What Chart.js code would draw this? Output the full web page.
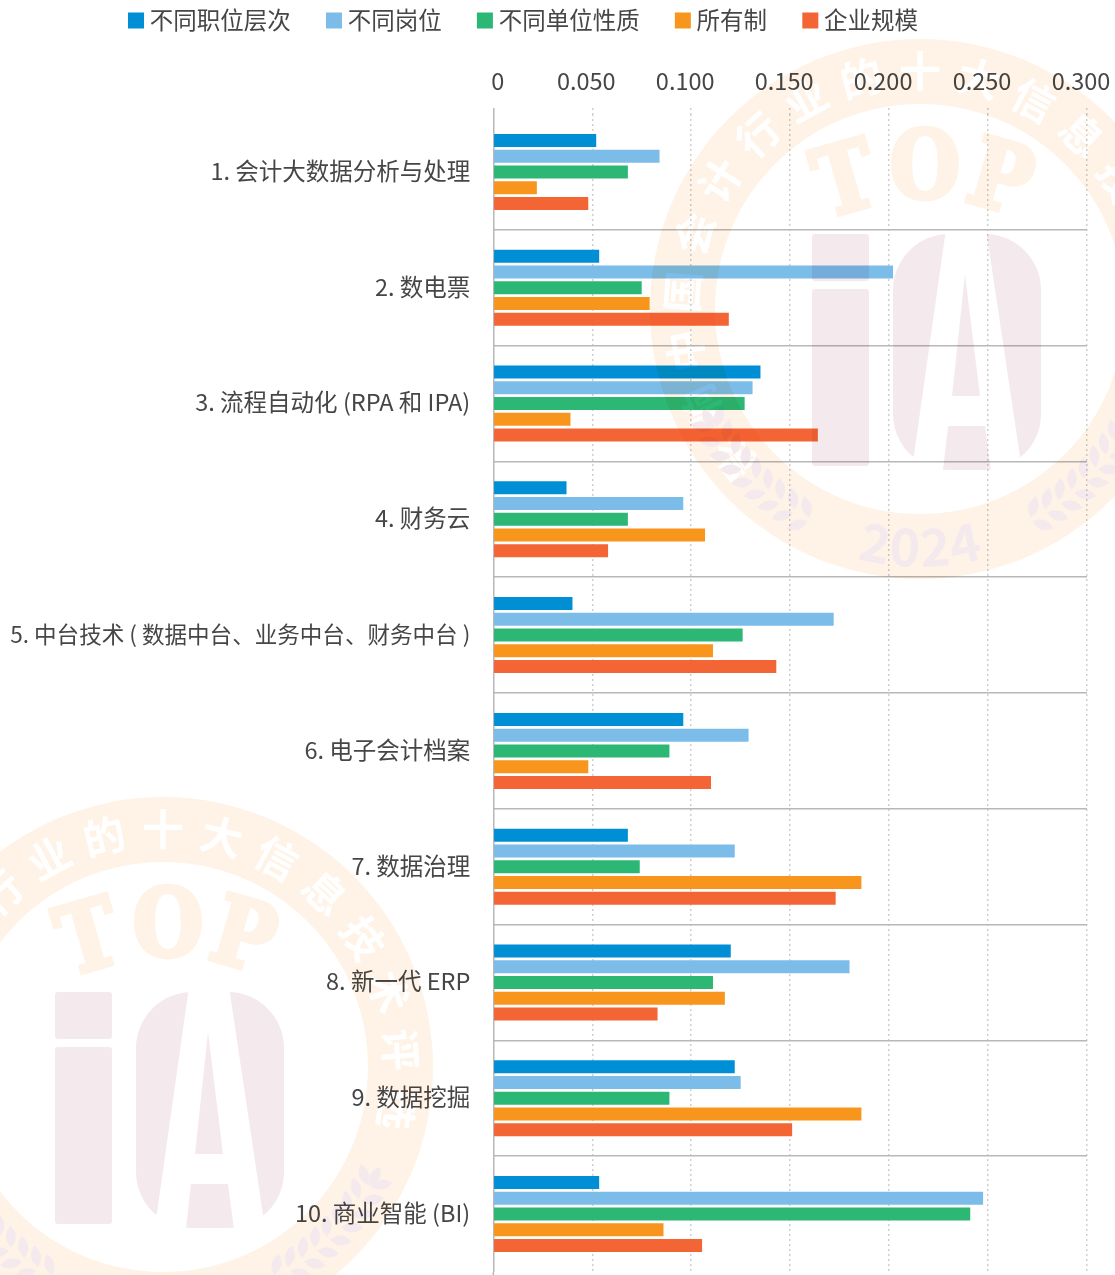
<!DOCTYPE html>
<html lang="zh">
<head>
<meta charset="utf-8">
<title>十大信息技术</title>
<style>html,body{margin:0;padding:0;background:#fff}canvas{display:block}</style>
<script src="https://cdn.jsdelivr.net/npm/chart.js@4/dist/chart.umd.js"></script>
</head>
<body>
<canvas id="c" width="1115" height="1275"></canvas>
<script>
const categories = ['1. 会计大数据分析与处理','2. 数电票','3. 流程自动化 (RPA 和 IPA)','4. 财务云','5. 中台技术 ( 数据中台、业务中台、财务中台 )','6. 电子会计档案','7. 数据治理','8. 新一代 ERP','9. 数据挖掘','10. 商业智能 (BI)'];
const xTickLabels = ['    0','0.050','0.100','0.150','0.200','0.250','0.300'];
const seriesNames = ['不同职位层次','不同岗位','不同单位性质','所有制','企业规模'];
const seriesColors = ['#008fd5','#7bbce9','#2cb775','#f8951d','#f46536'];
const byLevel     = [0.052,0.0535,0.135,0.037,0.040,0.096,0.068,0.120,0.122,0.0535];
const byPost      = [0.084,0.202,0.131,0.096,0.172,0.129,0.122,0.180,0.125,0.2475];
const byUnitType  = [0.068,0.075,0.127,0.068,0.126,0.089,0.074,0.111,0.089,0.241];
const byOwnership = [0.022,0.079,0.039,0.107,0.111,0.048,0.186,0.117,0.186,0.086];
const byScale     = [0.048,0.119,0.164,0.058,0.143,0.110,0.173,0.083,0.151,0.1055];
const seriesValues = [byLevel,byPost,byUnitType,byOwnership,byScale];

const FONT = '"Noto Sans CJK SC","Noto Sans",sans-serif';
const TEXT = '#464646';
const RING_TEXT = ['影','响','中','国','会','计','行','业','的','十','大','信','息','技','术','评','选'];

function drawStamp(g, cx, cy){
  const ring='#fef3e6', pink='#f4eaee';
  g.save(); g.translate(cx,cy);
  g.fillStyle=ring;
  g.beginPath(); g.arc(0,0,270,0,Math.PI*2); g.arc(0,0,205,0,Math.PI*2,true); g.fill('evenodd');
  // ring text
  g.fillStyle='#fff'; g.font='bold 42px '+FONT; g.textAlign='center'; g.textBaseline='middle';
  RING_TEXT.forEach((t,i)=>{ g.save(); g.rotate((i-9)*14.3*Math.PI/180); g.fillText(t,0,-238); g.restore(); });
  // TOP
  g.fillStyle=ring; g.strokeStyle=ring; g.lineWidth=5; g.lineJoin='miter'; g.font='bold 94px "DejaVu Serif",serif';
  [['T',-74,-126,-16],['O',5,-139,0],['P',80,-128,16]].forEach(([t,x,y,r])=>{
    g.save(); g.translate(x,y); g.rotate(r*Math.PI/180); g.scale(.86,1); g.fillText(t,0,4); g.strokeText(t,0,4); g.restore();
  });
  // i
  g.fillStyle=pink;
  g.beginPath(); g.roundRect(-108,-75,57,47,3); g.roundRect(-108,-20,57,177,3); g.fill();
  // A
  g.save();
  g.beginPath(); g.roundRect(-27,-75,148,236,56); g.clip();
  const poly=p=>{g.beginPath();p.forEach((q,i)=>i?g.lineTo(q[0],q[1]):g.moveTo(q[0],q[1]));g.closePath();g.fill();};
  poly([[-30,-80],[26,-80],[-6,146],[-30,175]]);
  poly([[66,-80],[125,-80],[125,175],[100,148]]);
  poly([[45,-35],[32,87],[60,87]]);
  poly([[28,117],[65,117],[72,170],[22,170]]);
  g.restore();
  // 2024
  g.font='bold 52px '+FONT;
  ['2','0','2','4'].forEach((t,i)=>{ g.save(); g.rotate(-(i-1.5)*7.2*Math.PI/180); g.fillText(t,0,238); g.restore(); });
  // laurels
  const leaf=(px,py,dx,dy)=>{
    g.save(); g.translate(px,py); g.rotate(Math.atan2(dy,dx));
    g.beginPath(); g.moveTo(0,0); g.quadraticCurveTo(11,-10,22,0); g.quadraticCurveTo(11,10,0,0); g.fill();
    g.restore();
  };
  [-1,1].forEach(side=>{
    for(let i=0;i<9;i++){
      const a=(152-i*4)*Math.PI/180;
      const px=side*238*Math.sin(a), py=-238*Math.cos(a);
      const tx=-Math.cos(a)*side, ty=-Math.sin(a);
      const nx=Math.sin(a)*side, ny=-Math.cos(a);
      [-1,1].forEach(w=>{
        const ang=48*Math.PI/180;
        leaf(px+w*nx*2,py+w*ny*2,tx*Math.cos(ang)+w*nx*Math.sin(ang),ty*Math.cos(ang)+w*ny*Math.sin(ang));
      });
      if(i===8) leaf(px,py,tx,ty);
    }
  });
  g.restore();
}

const decor = {
  id:'decor',
  afterLayout(chart){
    const pad=chart.options.plugins.legend.labels.padding;
    chart.legend.left = 134 - pad;
    chart.legend.top = 20.5 - pad - 11.75;
    chart.scales.x.top = 40;
  },
  afterDraw(chart){
    const ctx=chart.ctx, x0=chart.scales.x.getPixelForValue(0);
    ctx.save();
    ctx.strokeStyle='#b8b8b8'; ctx.lineWidth=1.5;
    ctx.beginPath(); ctx.moveTo(x0,chart.chartArea.bottom); ctx.lineTo(x0,chart.height); ctx.stroke();
    const off=document.createElement('canvas'); off.width=chart.width; off.height=chart.height;
    const g=off.getContext('2d');
    drawStamp(g,920,309); drawStamp(g,163,1067);
    ctx.globalCompositeOperation='multiply';
    ctx.drawImage(off,0,0);
    ctx.restore();
  }
};
const noPad=s=>{s.paddingLeft=s.paddingRight=s.paddingTop=s.paddingBottom=0;};

new Chart(document.getElementById('c'),{
  type:'bar',
  data:{labels:categories,datasets:seriesNames.map((n,i)=>({label:n,data:seriesValues[i],backgroundColor:seriesColors[i],borderColor:seriesColors[i],borderWidth:0}))},
  plugins:[decor],
  options:{
    indexAxis:'y',responsive:false,animation:false,
    categoryPercentage:0.68,barPercentage:0.825,
    layout:{autoPadding:false,padding:{left:0,right:28,top:0,bottom:3}},
    plugins:{
      tooltip:{enabled:false},
      legend:{display:true,position:'top',align:'start',
        labels:{boxWidth:4,boxHeight:4,padding:41.2,color:TEXT,font:{family:FONT,size:23.5},
          generateLabels(chart){
            return Chart.defaults.plugins.legend.labels.generateLabels(chart).map(it=>Object.assign(it,{lineWidth:12,strokeStyle:it.fillStyle,lineJoin:'miter',lineDash:[]}));
          }}}
    },
    scales:{
      x:{position:'top',min:0,max:0.3,
        afterFit(s){s.height=114-s.chart.legend.height;noPad(s);},
        ticks:{stepSize:0.05,autoSkip:false,maxRotation:0,padding:13,labelOffset:-6,color:TEXT,font:{family:FONT,size:23.5},
          callback:(v,i)=>xTickLabels[i]},
        border:{display:false,dash:c=>c.index===0?[]:[2,3]},
        grid:{tickLength:6,lineWidth:1.5,color:c=>c.index===0?'#b8b8b8':'#cfcfcf',tickColor:c=>c.index===0?'#b8b8b8':'#cfcfcf',tickBorderDash:c=>c.index===0?[]:[2,3]}
      },
      y:{
        afterFit(s){s.width=493.3;noPad(s);},
        ticks:{padding:23,labelOffset:-1,autoSkip:false,color:TEXT,font:c=>({family:FONT,size:c.index===4?22.55:23.5})},
        border:{display:false},
        grid:{drawTicks:false,lineWidth:1.5,color:c=>c.index>0?'#b8b8b8':'rgba(0,0,0,0)'}
      }
    }
  }
});
</script>
</body>
</html>
